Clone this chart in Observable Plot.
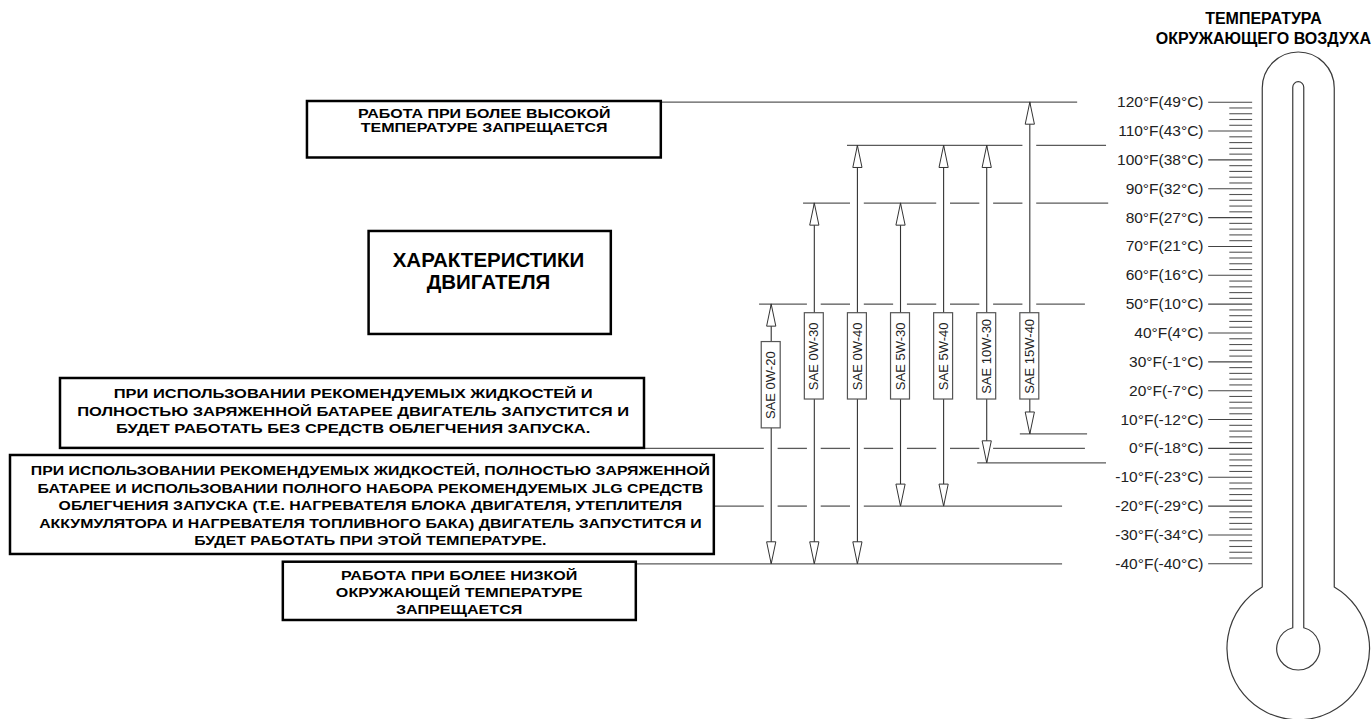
<!DOCTYPE html>
<html>
<head>
<meta charset="utf-8">
<script src="https://cdn.jsdelivr.net/npm/d3@7"></script>
<script src="https://cdn.jsdelivr.net/npm/@observablehq/plot@0.6"></script>
<style>
  html, body { margin: 0; padding: 0; background: #fff; }
  svg { display: block; }
</style>
</head>
<body>
<div id="chart"></div>
<script>
// ---------- DATA ----------
const oils = ["SAE 0W-20", "SAE 0W-30", "SAE 0W-40", "SAE 5W-30", "SAE 5W-40", "SAE 10W-30", "SAE 15W-40"];
const oilMinF = [-40, -40, -40, -20, -20, -5, 5];
const oilMaxF = [50, 85, 105, 85, 105, 105, 120];

const tickF = [120, 110, 100, 90, 80, 70, 60, 50, 40, 30, 20, 10, 0, -10, -20, -30, -40];
const tickLabels = ["120°F(49°C)", "110°F(43°C)", "100°F(38°C)", "90°F(32°C)", "80°F(27°C)", "70°F(21°C)",
  "60°F(16°C)", "50°F(10°C)", "40°F(4°C)", "30°F(-1°C)", "20°F(-7°C)", "10°F(-12°C)", "0°F(-18°C)",
  "-10°F(-23°C)", "-20°F(-29°C)", "-30°F(-34°C)", "-40°F(-40°C)"];
const minorStepF = 2;

const limitF = [120, 105, 85, 50, 5, 0, -5, -20, -40];

const titleText = "ТЕМПЕРАТУРА\nОКРУЖАЮЩЕГО ВОЗДУХА";
const notes = [
  "РАБОТА ПРИ БОЛЕЕ ВЫСОКОЙ\nТЕМПЕРАТУРЕ ЗАПРЕЩАЕТСЯ",
  "ХАРАКТЕРИСТИКИ\nДВИГАТЕЛЯ",
  "ПРИ ИСПОЛЬЗОВАНИИ РЕКОМЕНДУЕМЫХ ЖИДКОСТЕЙ И\nПОЛНОСТЬЮ ЗАРЯЖЕННОЙ БАТАРЕЕ ДВИГАТЕЛЬ ЗАПУСТИТСЯ И\nБУДЕТ РАБОТАТЬ БЕЗ СРЕДСТВ ОБЛЕГЧЕНИЯ ЗАПУСКА.",
  "ПРИ ИСПОЛЬЗОВАНИИ РЕКОМЕНДУЕМЫХ ЖИДКОСТЕЙ, ПОЛНОСТЬЮ ЗАРЯЖЕННОЙ\nБАТАРЕЕ И ИСПОЛЬЗОВАНИИ ПОЛНОГО НАБОРА РЕКОМЕНДУЕМЫХ JLG СРЕДСТВ\nОБЛЕГЧЕНИЯ ЗАПУСКА (Т.Е. НАГРЕВАТЕЛЯ БЛОКА ДВИГАТЕЛЯ, УТЕПЛИТЕЛЯ\nАККУМУЛЯТОРА И НАГРЕВАТЕЛЯ ТОПЛИВНОГО БАКА) ДВИГАТЕЛЬ ЗАПУСТИТСЯ И\nБУДЕТ РАБОТАТЬ ПРИ ЭТОЙ ТЕМПЕРАТУРЕ.",
  "РАБОТА ПРИ БОЛЕЕ НИЗКОЙ\nОКРУЖАЮЩЕЙ ТЕМПЕРАТУРЕ\nЗАПРЕЩАЕТСЯ"
];

// ---------- LAYOUT (x in oil-column units, y in °F) ----------
const L = {
  xDomain: [-17.882, 13.951],
  yDomain: [-93.97, 155.25],
  font: "'Liberation Sans', Arial, sans-serif",
  gap: 0.16,
  limitFrom: [-2.55, 1.77, 0.75, -0.27, 5.78, -2.94, 4.79, -1.32, -3.13],
  limitTo:   [7.11, 7.78, 7.83, 7.29, 7.34, 7.29, 7.78, 6.76, 6.76],
  oilBoxHalfW: 0.22, oilBoxHalfH: 14.96,
  oilBoxCenter: [21.9, 31.9, 31.9, 31.9, 31.9, 31.9, 31.9],
  headLen: 22, headHalf: 4.6,
  tickLabelX: 10.03, majorTick: [10.15, 11.17], minorTick: [10.64, 11.17],
  thermo: {x: 12.24, topF: 137.23, bulbF: -69.53, stemHalf: 36, bulbR: 71.3,
           tubeHalf: 5.5, tubeTopF: 126.93, innerR: 21.5},
  title: {x: 11.42, y: 145.77, size: 16, lineHeight: 1.23},
  boxes: [
    {x1: -10.76, x2: -2.55, y1: 120.24, y2: 100.66, tx: -6.66, ty: 113.5, size: 13, lh: 1.06, sx: 1.23},
    {x1: -9.33, x2: -3.71, y1: 75.19, y2: 39.49, tx: -6.56, ty: 61.6, size: 20.5, lh: 1.07, sx: 1},
    {x1: -16.49, x2: -2.94, y1: 24.23, y2: 0, tx: -9.70, ty: 13.24, size: 13, lh: 1.35, sx: 1.27},
    {x1: -17.65, x2: -1.32, y1: -2.46, y2: -36.77, tx: -9.30, ty: -19.45, size: 13, lh: 1.35, sx: 1.22},
    {x1: -11.32, x2: -3.13, y1: -39.45, y2: -59.65, tx: -7.24, ty: -49.53, size: 13, lh: 1.31, sx: 1.24}
  ]
};

// ---------- DERIVED ----------
const arrows = oils.map((name, i) => ({name, i, lo: oilMinF[i], hi: oilMaxF[i], c: L.oilBoxCenter[i]}));

const segs = [];
limitF.forEach((t, k) => {
  const from = L.limitFrom[k], to = L.limitTo[k];
  const cuts = arrows.filter(a => a.lo < t && t < a.hi && a.i > from && a.i < to).map(a => a.i);
  let a0 = from;
  for (const i of cuts) { segs.push({t, x1: a0, x2: i - L.gap}); a0 = i + L.gap; }
  segs.push({t, x1: a0, x2: to});
});

const ticks = tickF.map((t, k) => ({t, label: tickLabels[k]}));
const minor = d3.range(d3.min(tickF), d3.max(tickF) + 1e-9, minorStepF).filter(t => t % 10 !== 0);

const headUp = {draw(ctx) { ctx.moveTo(0, 0); ctx.lineTo(L.headHalf, L.headLen); ctx.lineTo(-L.headHalf, L.headLen); ctx.closePath(); }};
const headDown = {draw(ctx) { ctx.moveTo(0, 0); ctx.lineTo(L.headHalf, -L.headLen); ctx.lineTo(-L.headHalf, -L.headLen); ctx.closePath(); }};

function thermometer(index, scales) {
  const T = L.thermo;
  const cx = scales.x(T.x);
  const top = scales.y(T.topF), cy = scales.y(T.bulbF), tubeTop = scales.y(T.tubeTopF);
  const h = T.stemHalf, R = T.bulbR, th = T.tubeHalf, r = T.innerR;
  const ym = cy - Math.sqrt(R * R - h * h);
  const yi = cy - Math.sqrt(r * r - th * th);
  const outer = `M${cx - h},${ym} L${cx - h},${top + h} A${h},${h} 0 0 1 ${cx + h},${top + h} L${cx + h},${ym} A${R},${R} 0 1 1 ${cx - h},${ym} Z`;
  const inner = `M${cx - th},${yi} L${cx - th},${tubeTop + th} A${th},${th} 0 0 1 ${cx + th},${tubeTop + th} L${cx + th},${yi} A${r},${r} 0 1 1 ${cx - th},${yi} Z`;
  const g = d3.create("svg:g").attr("fill", "none").attr("stroke", "#3a3a3a").attr("stroke-width", 1.2);
  g.append("path").attr("d", outer);
  g.append("path").attr("d", inner);
  return g.node();
}

// ---------- MARKS ----------
const marks = [
  Plot.ruleY(segs, {y: "t", x1: "x1", x2: "x2", stroke: "#5a5a5a", strokeWidth: 1.3}),
  Plot.rect(L.boxes, {x1: "x1", x2: "x2", y1: "y1", y2: "y2", fill: "white", stroke: "black", strokeWidth: 2.5}),
  Plot.ruleX(arrows, {x: "i", y1: "lo", y2: "hi", stroke: "#333", strokeWidth: 1.1}),
  Plot.dot(arrows, {x: "i", y: "hi", symbol: headUp, fill: "white", stroke: "#333", strokeWidth: 1}),
  Plot.dot(arrows, {x: "i", y: "lo", symbol: headDown, fill: "white", stroke: "#333", strokeWidth: 1}),
  Plot.rect(arrows, {x1: d => d.i - L.oilBoxHalfW, x2: d => d.i + L.oilBoxHalfW,
    y1: d => d.c - L.oilBoxHalfH, y2: d => d.c + L.oilBoxHalfH, fill: "white", stroke: "#555", strokeWidth: 1.2}),
  Plot.text(arrows, {x: "i", y: "c", text: "name", rotate: -90, fontSize: 13, fill: "#222", fontFamily: L.font}),
  Plot.ruleY(tickF, {y: d => d, x1: L.majorTick[0], x2: L.majorTick[1], stroke: "#444", strokeWidth: 1.1}),
  Plot.ruleY(minor, {y: d => d, x1: L.minorTick[0], x2: L.minorTick[1], stroke: "#555", strokeWidth: 1.1}),
  Plot.text(ticks, {x: L.tickLabelX, y: "t", text: "label", textAnchor: "end", fontSize: 15.5, fill: "#222", fontFamily: L.font}),
  thermometer,
  Plot.text([titleText], {x: L.title.x, y: L.title.y, text: d => d, fontSize: L.title.size, fontWeight: "bold",
    lineHeight: L.title.lineHeight, fill: "#000", fontFamily: L.font}),
  ...L.boxes.map((b, k) => Plot.text([notes[k]], {x: b.tx, y: b.ty, text: d => d, fontSize: b.size, fontWeight: "bold",
    lineHeight: b.lh, fill: "#000", fontFamily: L.font}))
];

const chart = Plot.plot({
  width: 1372,
  height: 719,
  margin: 0,
  x: {domain: L.xDomain, axis: null},
  y: {domain: L.yDomain, axis: null},
  style: {background: "white", fontFamily: L.font, overflow: "visible"},
  marks
});

// widen the small bold notes horizontally, as in the reference lettering
const flat = notes.map(s => s.replace(/\n/g, ""));
d3.select(chart).selectAll("text").each(function () {
  const k = flat.indexOf(this.textContent);
  if (k >= 0 && L.boxes[k].sx !== 1) {
    const t = this.getAttribute("transform") || "";
    this.setAttribute("transform", t + ` scale(${L.boxes[k].sx},1)`);
  }
});

document.getElementById("chart").appendChild(chart);
</script>
</body>
</html>
